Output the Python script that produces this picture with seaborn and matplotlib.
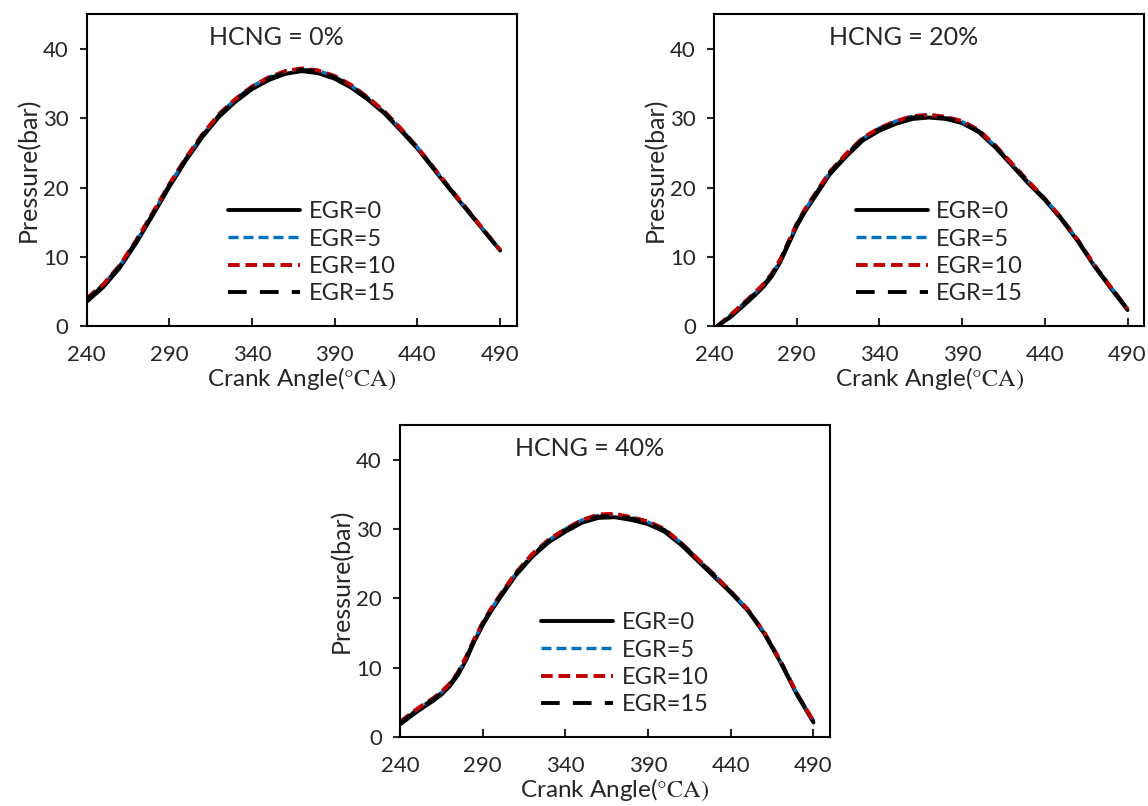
import matplotlib
matplotlib.use('Agg')
import matplotlib.pyplot as plt
import seaborn as sns
import pandas as pd

# crank angle grids (deg CA), denser where the curves bend
crank_0 = [240, 250, 260, 270, 280, 290, 300, 310, 320, 330, 340, 350, 360,
           370, 380, 390, 400, 410, 420, 430, 440, 450, 460, 470, 480, 490]
crank_20 = [242, 250, 260, 265, 270, 275, 280, 285, 290, 295, 300, 310, 320, 330, 340,
            350, 360, 370, 380, 390, 400, 410, 420, 430, 440, 450, 460, 470, 480, 490]
crank_40 = [240, 250, 260, 265, 270, 275, 280, 285, 290, 295, 300, 310, 320, 330, 340,
            350, 360, 370, 380, 390, 400, 410, 420, 430, 440, 450, 460, 470, 480, 490]

egr_labels = ['EGR=0', 'EGR=5', 'EGR=10', 'EGR=15']
hcng_titles = ['HCNG = 0%', 'HCNG = 20%', 'HCNG = 40%']

# HCNG = 0%
h0_egr0 = [3.5, 5.6, 8.4, 12.0, 16.0, 20.1, 23.9, 27.3, 30.2, 32.4, 34.2, 35.5, 36.4,
           36.8, 36.5, 35.7, 34.4, 32.7, 30.7, 28.2, 25.6, 22.6, 19.6, 16.7, 13.8, 10.9]
h0_egr5 = [3.9, 6.0, 8.7, 12.3, 16.3, 20.4, 24.2, 27.6, 30.5, 32.8, 34.6, 35.9, 36.8,
           37.1, 36.9, 36.0, 34.7, 33.0, 30.9, 28.5, 25.8, 22.8, 19.8, 16.8, 13.9, 11.0]
h0_egr10 = [4.0, 6.0, 8.8, 12.4, 16.4, 20.5, 24.3, 27.7, 30.6, 32.8, 34.6, 35.9, 36.8,
            37.2, 36.9, 36.1, 34.8, 33.0, 31.0, 28.5, 25.8, 22.8, 19.8, 16.9, 13.9, 11.0]
h0_egr15 = [3.8, 5.8, 8.6, 12.2, 16.2, 20.3, 24.1, 27.5, 30.4, 32.6, 34.4, 35.7, 36.6,
            37.0, 36.7, 35.9, 34.6, 32.8, 30.8, 28.3, 25.7, 22.7, 19.7, 16.8, 13.8, 10.9]

# HCNG = 20%
h20_egr0 = [0.0, 1.3, 3.4, 4.5, 5.7, 7.2, 9.2, 11.8, 14.4, 16.5, 18.3, 21.9, 24.5, 26.8, 28.2,
            29.2, 29.9, 30.1, 29.9, 29.3, 28.0, 25.8, 23.2, 20.6, 18.2, 15.4, 12.2, 8.6, 5.4, 2.3]
h20_egr5 = [0.0, 1.6, 3.7, 4.8, 6.0, 7.5, 9.5, 12.1, 14.7, 16.8, 18.6, 22.2, 24.9, 27.1, 28.6,
            29.6, 30.3, 30.5, 30.2, 29.5, 28.2, 26.0, 23.5, 20.9, 18.4, 15.6, 12.4, 8.8, 5.6, 2.5]
h20_egr10 = [0.0, 1.6, 3.8, 4.9, 6.1, 7.6, 9.6, 12.2, 14.8, 16.9, 18.7, 22.3, 24.9, 27.2, 28.6,
             29.6, 30.3, 30.5, 30.2, 29.6, 28.3, 26.1, 23.5, 20.9, 18.4, 15.6, 12.4, 8.8, 5.6, 2.5]
h20_egr15 = [0.0, 1.4, 3.6, 4.7, 5.9, 7.4, 9.4, 12.0, 14.6, 16.7, 18.5, 22.1, 24.7, 27.0, 28.4,
             29.4, 30.1, 30.3, 30.0, 29.4, 28.1, 25.9, 23.3, 20.7, 18.3, 15.5, 12.3, 8.7, 5.5, 2.4]

# HCNG = 40%
h40_egr0 = [1.8, 3.6, 5.2, 6.1, 7.3, 8.9, 11.1, 13.8, 16.1, 18.1, 19.9, 23.3, 26.0, 28.1, 29.6,
            30.9, 31.6, 31.7, 31.3, 30.7, 29.6, 27.7, 25.4, 23.1, 20.8, 18.3, 15.0, 10.8, 6.1, 2.1]
h40_egr5 = [2.1, 3.9, 5.5, 6.4, 7.6, 9.2, 11.5, 14.1, 16.4, 18.4, 20.2, 23.6, 26.3, 28.4, 30.0,
            31.3, 32.0, 32.1, 31.7, 31.0, 29.9, 28.0, 25.7, 23.4, 21.0, 18.5, 15.2, 11.0, 6.3, 2.3]
h40_egr10 = [2.2, 4.0, 5.6, 6.5, 7.7, 9.3, 11.6, 14.2, 16.5, 18.5, 20.3, 23.7, 26.4, 28.5, 30.0,
             31.3, 32.1, 32.2, 31.7, 31.1, 30.0, 28.0, 25.7, 23.4, 21.0, 18.5, 15.2, 11.0, 6.3, 2.3]
h40_egr15 = [2.0, 3.8, 5.4, 6.3, 7.5, 9.1, 11.4, 14.0, 16.3, 18.3, 20.1, 23.5, 26.2, 28.3, 29.8,
             31.1, 31.8, 31.9, 31.5, 30.9, 29.8, 27.9, 25.6, 23.3, 20.9, 18.4, 15.1, 10.9, 6.2, 2.2]

panels = [
    (crank_0, [h0_egr0, h0_egr5, h0_egr10, h0_egr15]),
    (crank_20, [h20_egr0, h20_egr5, h20_egr10, h20_egr15]),
    (crank_40, [h40_egr0, h40_egr5, h40_egr10, h40_egr15]),
]

styles = [
    dict(color='black', lw=2.8, ls='-'),
    dict(color='#0070C0', lw=2.4, ls=(0, (3.0, 1.5))),
    dict(color='#C00000', lw=2.8, ls=(0, (3.0, 1.5))),
    dict(color='black', lw=2.8, ls=(0, (4.8, 3.4))),
]

sns.set_style('ticks')
plt.rcParams['font.family'] = ['Lato', 'DejaVu Sans']
plt.rcParams['mathtext.fontset'] = 'stix'

fig = plt.figure(figsize=(11.48, 8.06), dpi=100)
rects = [
    [0.0755, 0.5955, 0.3746, 0.3867],
    [0.6220, 0.5955, 0.3746, 0.3867],
    [0.3484, 0.0856, 0.3746, 0.3871],
]

for rect, (xs, series), title in zip(rects, panels, hcng_titles):
    ax = fig.add_axes(rect)
    for ys, lab, st in zip(series, egr_labels, styles):
        df = pd.DataFrame({'ca': xs, 'p': ys})
        sns.lineplot(data=df, x='ca', y='p', ax=ax, label=lab,
                     color=st['color'], linewidth=st['lw'], linestyle=st['ls'])
    ax.set_xlim(240, 500)
    ax.set_ylim(0, 45)
    ax.set_xticks([240, 290, 340, 390, 440, 490])
    ax.set_yticks([0, 10, 20, 30, 40])
    ax.tick_params(axis='x', direction='in', length=6, width=1.5, labelsize=16, pad=14)
    ax.tick_params(axis='y', direction='out', length=5, width=1.5, labelsize=16, pad=8)
    for sp in ax.spines.values():
        sp.set_linewidth(1.5)
        sp.set_color('black')
    ax.set_xlabel('Crank Angle(' + r'$\mathrm{°CA)}$', fontsize=17.5, labelpad=0)
    ax.set_ylabel('Pressure(bar)', fontsize=18, labelpad=2)
    ax.text(0.44, 0.925, title, transform=ax.transAxes, ha='center', va='center', fontsize=18)
    ax.legend(loc='upper left', bbox_to_anchor=(0.329, 0.40), frameon=False,
              handlelength=3.05, fontsize=17, labelspacing=0.27, handletextpad=0.35,
              borderpad=0, borderaxespad=0)

fig.savefig('out.png', dpi=100)
